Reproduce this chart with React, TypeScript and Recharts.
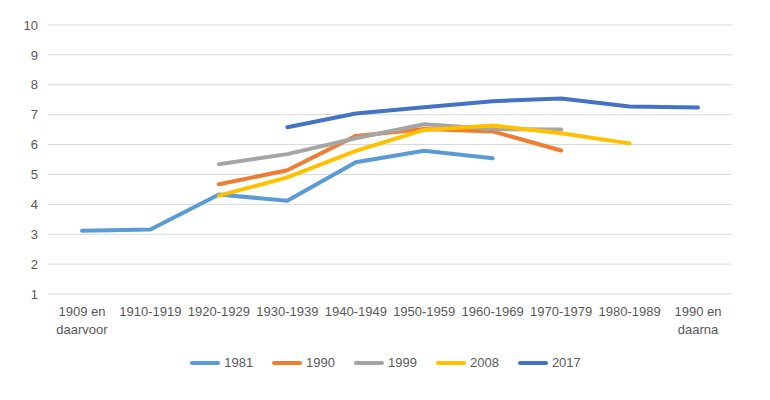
import { CartesianGrid, Legend, Line, LineChart, XAxis, YAxis } from 'recharts'

const CATEGORIES = [
  '1909 en daarvoor',
  '1910-1919',
  '1920-1929',
  '1930-1939',
  '1940-1949',
  '1950-1959',
  '1960-1969',
  '1970-1979',
  '1980-1989',
  '1990 en daarna',
]

const S1981 = [3.12, 3.16, 4.33, 4.12, 5.41, 5.79, 5.54, null, null, null]
const S1990 = [null, null, 4.67, 5.14, 6.29, 6.52, 6.44, 5.8, null, null]
const S1999 = [null, null, 5.34, 5.68, 6.21, 6.68, 6.52, 6.5, null, null]
const S2008 = [null, null, 4.29, 4.9, 5.79, 6.49, 6.64, 6.38, 6.04, null]
const S2017 = [null, null, null, 6.58, 7.04, 7.25, 7.45, 7.54, 7.27, 7.24]

const Y_TICKS = [1, 2, 3, 4, 5, 6, 7, 8, 9, 10]

const SERIES = [
  { key: 's1981', name: '1981', color: '#5B9BD5', values: S1981 },
  { key: 's1990', name: '1990', color: '#ED7D31', values: S1990 },
  { key: 's1999', name: '1999', color: '#A5A5A5', values: S1999 },
  { key: 's2008', name: '2008', color: '#FFC000', values: S2008 },
  { key: 's2017', name: '2017', color: '#4472C4', values: S2017 },
]

const rows = CATEGORIES.map((cat, i) => {
  const row: Record<string, string | number | null> = { cat }
  SERIES.forEach((s) => {
    row[s.key] = s.values[i]
  })
  return row
})

const FONT = '"Liberation Sans", Arial, sans-serif'
const TEXT = '#595959'

function CatTick({ x, y, payload }: { x?: number; y?: number; payload?: { value: string } }) {
  const lines = (payload?.value ?? '').replace(' en ', ' en\n').split('\n')
  return (
    <text x={x} y={y} textAnchor="middle" fill={TEXT} fontSize={13} fontFamily={FONT}>
      {lines.map((l, i) => (
        <tspan key={i} x={x} dy={i === 0 ? 20 : 18}>
          {l}
        </tspan>
      ))}
    </text>
  )
}

function LegendBody() {
  return (
    <div style={{ display: 'flex', justifyContent: 'center', gap: 18, fontFamily: FONT, fontSize: 13, color: TEXT }}>
      {SERIES.map((s) => (
        <div key={s.key} style={{ display: 'flex', alignItems: 'center', gap: 3 }}>
          <svg width={32} height={6}>
            <line x1={3} y1={3} x2={29} y2={3} stroke={s.color} strokeWidth={4} strokeLinecap="round" />
          </svg>
          <span>{s.name}</span>
        </div>
      ))}
    </div>
  )
}

export default function App() {
  return (
    <div style={{ position: 'absolute', left: 0, top: 0, background: '#fff' }}>
      <LineChart width={770} height={400} data={rows} margin={{ top: 25, right: 38, bottom: 44, left: 0 }}>
        <CartesianGrid stroke="#d9d9d9" vertical={false} />
        <XAxis
          dataKey="cat"
          axisLine={false}
          tickLine={false}
          tickSize={0}
          interval={0}
          height={40}
          padding={{ left: 34, right: 34 }}
          tick={<CatTick />}
        />
        <YAxis
          domain={[1, 10]}
          ticks={Y_TICKS}
          axisLine={false}
          tickLine={false}
          tickSize={0}
          tickMargin={10}
          width={48}
          tick={{ fill: TEXT, fontSize: 13, fontFamily: FONT }}
        />
        <Legend
          verticalAlign="bottom"
          height={22}
          content={<LegendBody />}
          wrapperStyle={{ top: 355, left: 0, width: 770 }}
        />
        {SERIES.map((s) => (
          <Line
            key={s.key}
            dataKey={s.key}
            name={s.name}
            stroke={s.color}
            strokeWidth={4}
            strokeLinecap="round"
            strokeLinejoin="round"
            dot={false}
            activeDot={false}
            connectNulls={false}
            isAnimationActive={false}
          />
        ))}
      </LineChart>
    </div>
  )
}
